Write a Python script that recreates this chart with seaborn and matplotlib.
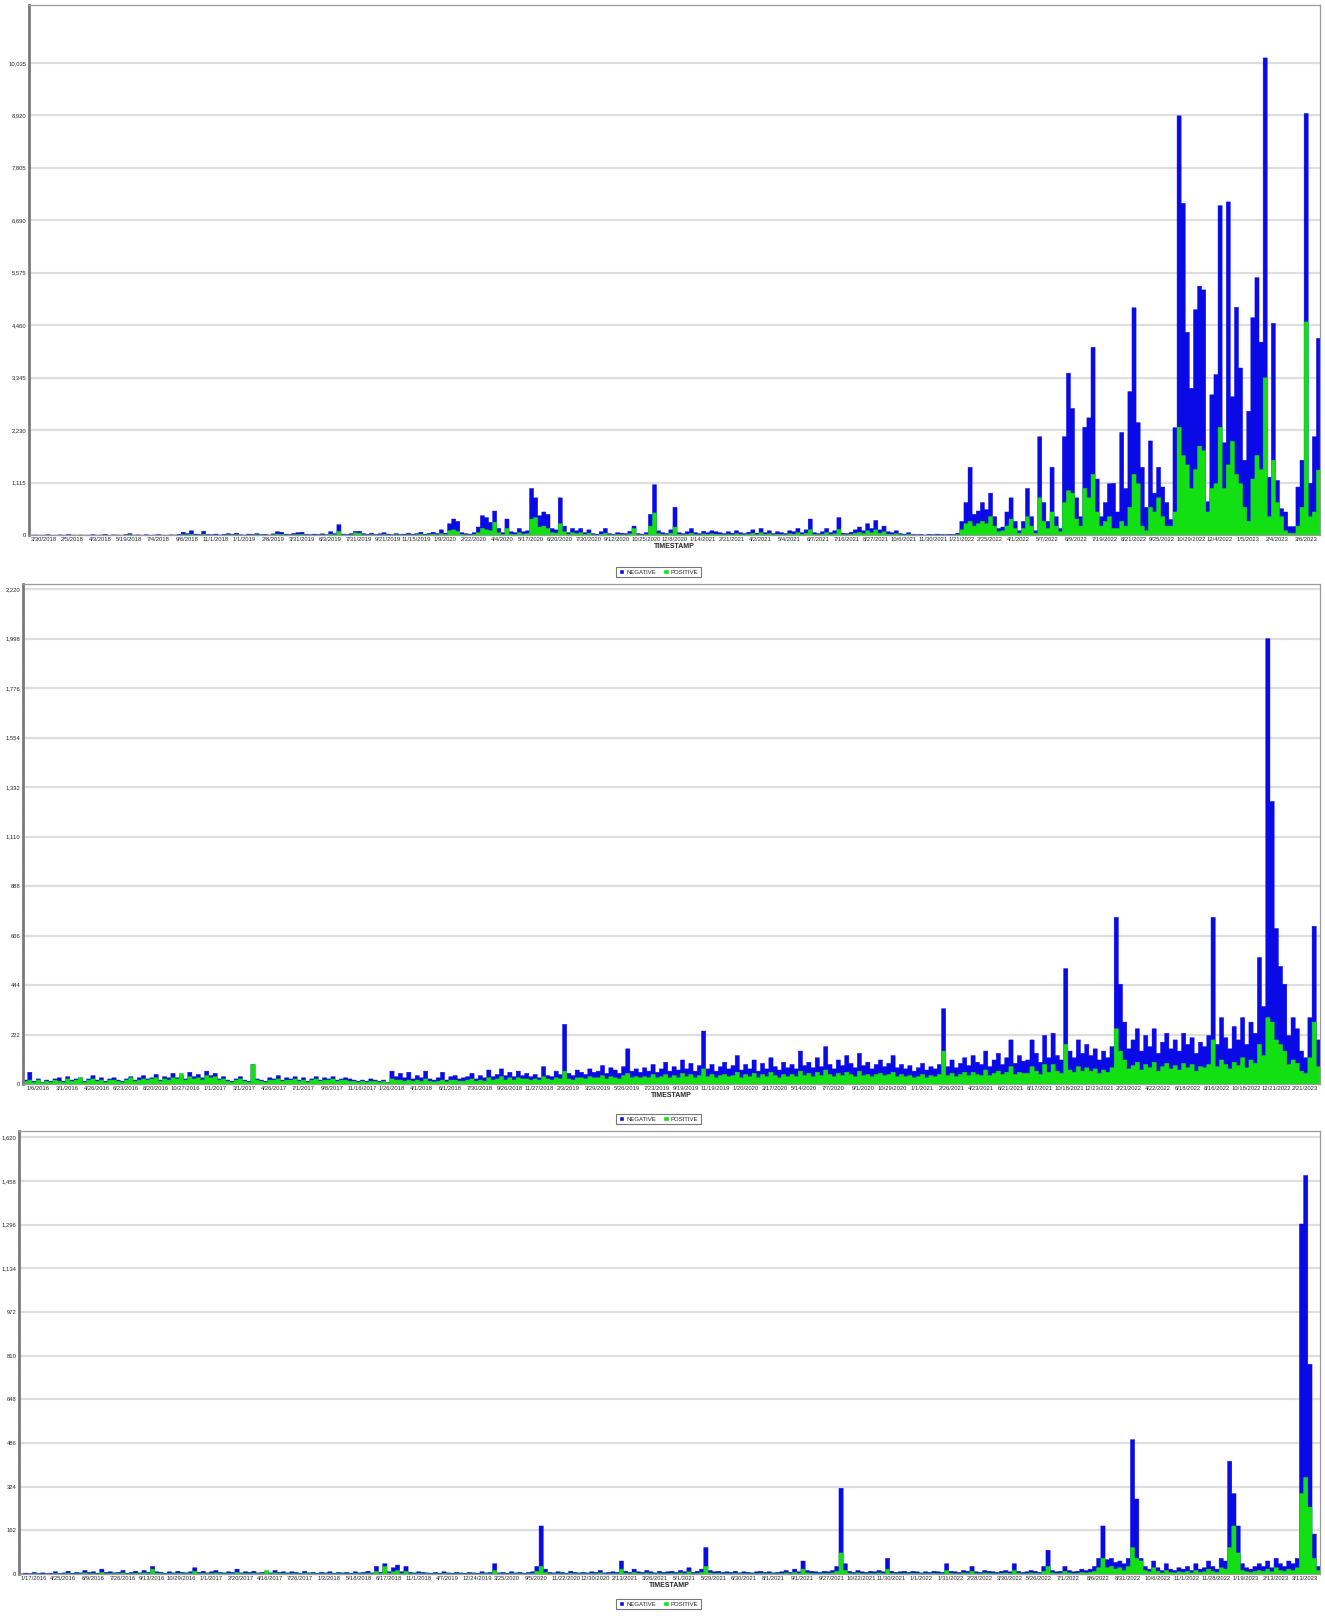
import numpy as np
import pandas as pd
import seaborn as sns
import matplotlib.pyplot as plt
from matplotlib.ticker import AutoMinorLocator
from matplotlib.patches import Patch

sns.set_style('white')
plt.rcParams['font.family'] = ['Liberation Sans', 'DejaVu Sans']

BLUE = '#0a0ae6'
GREEN = '#12e012'

# ---------------- panel 1 (one row = one x-label group) ----------------
p1_dates = ["3/30/2018", "2/5/2018", "4/3/2018", "5/19/2018", "7/4/2018", "9/6/2018", "11/1/2018",
            "1/1/2019", "2/8/2019", "3/31/2019", "6/3/2019", "7/31/2019", "9/21/2019", "11/15/2019",
            "1/9/2020", "2/22/2020", "4/4/2020", "5/17/2020", "6/20/2020", "7/30/2020", "9/12/2020",
            "10/25/2020", "12/8/2020", "1/14/2021", "2/21/2021", "4/2/2021", "5/4/2021", "6/7/2021",
            "7/16/2021", "8/27/2021", "10/6/2021", "11/30/2021", "1/21/2022", "2/25/2022", "4/1/2022",
            "5/7/2022", "6/9/2022", "7/19/2022", "8/21/2022", "9/25/2022", "10/29/2022", "12/4/2022",
            "1/5/2023", "2/4/2023", "3/6/2023"]
p1_yticks = [0, 1115, 2230, 3345, 4460, 5575, 6690, 7805, 8920, 10035]
p1_neg = [
    5, 10, 3, 8, 15, 4, 6,
    12, 5, 20, 8, 4, 10, 6,
    8, 15, 5, 10, 25, 6, 12,
    10, 5, 18, 40, 8, 12, 5,
    15, 6, 10, 20, 8, 5, 12,
    10, 25, 70, 40, 100, 30, 20,
    90, 20, 15, 30, 10, 25, 40,
    20, 50, 15, 10, 30, 20, 40,
    15, 25, 10, 35, 80, 70, 30,
    20, 45, 60, 70, 25, 15, 30,
    20, 35, 15, 80, 40, 230, 30,
    20, 40, 90, 90, 40, 25, 50,
    20, 35, 60, 30, 15, 40, 20,
    30, 50, 25, 40, 70, 30, 45,
    70, 40, 120, 50, 250, 350, 300,
    60, 40, 30, 60, 180, 420, 380,
    280, 520, 150, 60, 350, 80, 60,
    150, 80, 100, 1000, 800, 420, 500,
    450, 150, 120, 800, 200, 60, 150,
    100, 150, 60, 120, 40, 30, 80,
    150, 40, 30, 60, 50, 40, 90,
    200, 40, 30, 60, 450, 1080, 100,
    60, 40, 120, 600, 60, 40, 80,
    150, 60, 40, 90, 60, 100, 80,
    60, 40, 80, 50, 100, 60, 40,
    70, 120, 50, 150, 60, 100, 40,
    80, 60, 40, 100, 80, 150, 60,
    120, 350, 60, 40, 80, 150, 60,
    100, 380, 50, 40, 70, 120, 180,
    100, 250, 150, 320, 120, 200, 80,
    60, 100, 40, 30, 60, 20, 15,
    20, 10, 25, 15, 30, 20, 15,
    25, 20, 50, 300, 700, 1450, 450,
    520, 700, 550, 900, 400, 150, 180,
    500, 800, 300, 100, 300, 1000, 400,
    100, 2100, 700, 300, 1450, 400, 150,
    2100, 3450, 2700, 800, 400, 2300, 2500,
    4000, 1200, 400, 700, 1100, 1110, 500,
    2190, 1000, 3060, 4840, 2400, 1450, 600,
    2010, 900, 1450, 1030, 700, 340, 2290,
    8920, 7060, 4320, 3130, 4800, 5300, 5220,
    720, 2990, 3420, 7010, 1970, 7090, 2950,
    4850, 3560, 1600, 2640, 4630, 5480, 4110,
    10150, 1240, 4510, 1170, 570, 500, 190,
    190, 1030, 1600, 8970, 1110, 2100, 4190,
]
p1_pos = [
    2, 4, 1, 3, 6, 2, 3,
    5, 2, 8, 3, 2, 4, 2,
    3, 6, 2, 4, 10, 3, 5,
    4, 2, 7, 15, 3, 5, 2,
    6, 3, 4, 8, 3, 2, 5,
    4, 8, 20, 15, 30, 12, 8,
    30, 8, 6, 12, 4, 10, 15,
    8, 20, 6, 4, 12, 8, 15,
    6, 10, 4, 15, 30, 25, 12,
    8, 15, 20, 25, 10, 6, 12,
    8, 12, 6, 30, 15, 90, 12,
    8, 15, 60, 50, 15, 10, 20,
    8, 12, 25, 12, 6, 15, 8,
    12, 20, 10, 15, 30, 12, 20,
    30, 15, 40, 20, 100, 120, 90,
    25, 15, 12, 25, 60, 150, 120,
    100, 280, 60, 25, 150, 30, 25,
    60, 30, 40, 350, 380, 180, 200,
    150, 60, 50, 250, 80, 25, 60,
    40, 60, 25, 50, 15, 12, 30,
    50, 15, 12, 25, 20, 15, 35,
    150, 15, 12, 25, 200, 480, 40,
    25, 15, 50, 180, 25, 15, 30,
    50, 25, 15, 35, 25, 40, 30,
    25, 15, 30, 20, 40, 25, 15,
    30, 50, 20, 60, 25, 40, 15,
    30, 25, 15, 40, 30, 60, 25,
    50, 120, 25, 15, 30, 60, 25,
    40, 130, 20, 15, 30, 50, 70,
    40, 100, 60, 120, 50, 80, 30,
    25, 40, 15, 12, 25, 8, 6,
    8, 4, 10, 6, 12, 8, 6,
    10, 8, 20, 120, 250, 300, 200,
    250, 300, 250, 400, 200, 80, 100,
    200, 350, 150, 50, 150, 400, 200,
    50, 800, 300, 150, 500, 200, 80,
    700, 950, 900, 350, 200, 1000, 800,
    1300, 500, 200, 300, 400, 150, 150,
    300, 200, 600, 1300, 1100, 200, 100,
    600, 500, 800, 400, 200, 200, 500,
    2300, 1700, 1500, 1000, 1400, 1900, 1800,
    500, 1000, 1100, 2300, 1000, 1500, 2000,
    1300, 1100, 600, 300, 1200, 1700, 1400,
    3350, 400, 1600, 700, 400, 100, 50,
    50, 200, 600, 4540, 400, 500, 1390,
]

# ---------------- panel 2 ----------------
p2_dates = ["1/6/2016", "3/1/2016", "4/26/2016", "6/23/2016", "8/20/2016", "10/27/2016", "1/1/2017",
            "3/1/2017", "4/26/2017", "7/1/2017", "9/8/2017", "11/16/2017", "1/26/2018", "4/1/2018",
            "6/1/2018", "7/30/2018", "9/26/2018", "11/27/2018", "2/3/2019", "3/29/2019", "5/26/2019",
            "7/23/2019", "9/19/2019", "11/19/2019", "1/20/2020", "3/17/2020", "5/14/2020", "7/7/2020",
            "9/1/2020", "10/29/2020", "1/1/2021", "2/26/2021", "4/23/2021", "6/21/2021", "8/17/2021",
            "10/18/2021", "12/23/2021", "2/23/2022", "4/22/2022", "6/18/2022", "8/16/2022",
            "10/18/2022", "12/21/2022", "2/21/2023"]
p2_yticks = [0, 222, 444, 666, 888, 1110, 1332, 1554, 1776, 1998, 2220]
p2_neg = [
    20, 55, 15, 25, 10, 20, 15,
    25, 30, 15, 35, 20, 25, 30,
    15, 25, 40, 20, 30, 15, 25,
    30, 20, 15, 25, 35, 20, 30,
    40, 25, 30, 45, 20, 35, 30,
    50, 30, 40, 25, 55, 35, 45,
    30, 60, 40, 50, 25, 35, 20,
    15, 25, 35, 20, 15, 90, 25,
    20, 15, 30, 25, 40, 20, 30,
    25, 35, 20, 30, 15, 25, 35,
    20, 30, 25, 35, 20, 25, 30,
    25, 20, 15, 20, 15, 25, 20,
    15, 20, 10, 60, 35, 50, 30,
    55, 25, 40, 30, 60, 25, 20,
    30, 55, 20, 35, 40, 25, 30,
    35, 50, 25, 40, 30, 65, 35,
    45, 70, 40, 55, 35, 60, 40,
    50, 35, 45, 30, 80, 40, 35,
    60, 45, 270, 50, 40, 65, 55,
    45, 70, 55, 60, 85, 50, 75,
    65, 50, 80, 160, 60, 70, 55,
    75, 60, 90, 55, 70, 100, 60,
    80, 65, 110, 70, 95, 60, 85,
    240, 70, 90, 60, 80, 100, 70,
    85, 130, 65, 90, 70, 110, 60,
    95, 70, 120, 80, 65, 100, 75,
    90, 70, 150, 85, 100, 75, 120,
    80, 170, 90, 70, 110, 85, 130,
    95, 75, 140, 85, 100, 70, 90,
    110, 80, 95, 130, 75, 90, 70,
    85, 60, 75, 95, 65, 80, 70,
    90, 340, 80, 110, 75, 95, 120,
    85, 130, 100, 90, 150, 80, 110,
    140, 90, 120, 200, 95, 130, 105,
    110, 200, 140, 100, 220, 120, 230,
    130, 110, 520, 150, 120, 200, 140,
    180, 130, 160, 110, 150, 120, 170,
    750, 450, 280, 160, 200, 250, 150,
    220, 170, 250, 140, 190, 230, 160,
    200, 150, 230, 180, 210, 140, 190,
    170, 220, 750, 180, 300, 210, 160,
    260, 200, 300, 180, 280, 230, 570,
    350, 2000, 1270, 700, 530, 450, 220,
    300, 250, 150, 120, 300, 710, 200,
]
p2_pos = [
    15, 20, 10, 20, 8, 15, 10,
    20, 15, 10, 25, 15, 20, 30,
    10, 20, 25, 15, 20, 10, 20,
    20, 15, 10, 20, 30, 15, 20,
    25, 20, 25, 30, 15, 25, 20,
    30, 25, 50, 20, 35, 25, 30,
    20, 40, 30, 35, 20, 25, 15,
    10, 20, 25, 15, 10, 90, 20,
    15, 10, 20, 20, 25, 15, 20,
    20, 25, 15, 20, 10, 20, 25,
    15, 20, 20, 25, 15, 20, 20,
    15, 15, 10, 15, 10, 15, 15,
    10, 15, 8, 25, 20, 20, 15,
    20, 15, 20, 15, 25, 15, 12,
    15, 20, 12, 20, 20, 15, 15,
    20, 25, 15, 20, 15, 30, 20,
    25, 35, 20, 30, 20, 30, 25,
    25, 20, 25, 20, 35, 25, 20,
    30, 25, 60, 25, 20, 30, 30,
    25, 35, 30, 30, 40, 25, 35,
    30, 25, 40, 50, 30, 35, 30,
    35, 30, 45, 30, 35, 45, 30,
    40, 30, 50, 35, 45, 30, 40,
    70, 35, 45, 30, 40, 45, 35,
    40, 55, 30, 45, 35, 50, 30,
    45, 35, 55, 40, 30, 45, 35,
    45, 35, 60, 40, 50, 35, 55,
    40, 65, 45, 35, 50, 40, 55,
    45, 35, 60, 40, 45, 35, 45,
    50, 40, 45, 55, 35, 45, 35,
    40, 30, 35, 45, 30, 40, 35,
    45, 150, 40, 50, 35, 45, 55,
    40, 55, 45, 40, 65, 40, 50,
    60, 45, 55, 80, 45, 55, 50,
    50, 80, 60, 45, 90, 55, 90,
    60, 50, 180, 65, 55, 80, 60,
    75, 60, 70, 50, 65, 55, 75,
    250, 150, 110, 70, 85, 100, 65,
    90, 75, 100, 60, 80, 95, 70,
    85, 65, 95, 75, 90, 60, 80,
    75, 90, 200, 80, 110, 90, 70,
    100, 85, 120, 75, 110, 95, 180,
    130, 300, 280, 200, 180, 150, 90,
    110, 95, 60, 50, 120, 280, 80,
]

# ---------------- panel 3 ----------------
p3_dates = ["1/17/2016", "4/25/2016", "6/9/2016", "7/26/2016", "9/13/2016", "10/29/2016", "1/1/2017",
            "2/20/2017", "4/16/2017", "7/26/2017", "1/2/2018", "5/18/2018", "6/17/2018", "11/1/2018",
            "4/7/2019", "12/24/2019", "3/25/2020", "9/5/2020", "11/22/2020", "12/30/2020", "2/13/2021",
            "3/26/2021", "5/1/2021", "5/29/2021", "6/30/2021", "8/1/2021", "9/1/2021", "9/27/2021",
            "10/22/2021", "11/30/2021", "1/1/2022", "1/31/2022", "2/28/2022", "3/30/2022", "5/26/2022",
            "7/1/2022", "8/6/2022", "8/31/2022", "10/6/2022", "11/1/2022", "11/28/2022", "1/19/2023",
            "2/13/2023", "3/13/2023"]
p3_yticks = [0, 162, 324, 486, 648, 810, 972, 1134, 1296, 1458, 1620]
p3_neg = [
    2, 5, 3, 8, 4, 6, 3,
    5, 10, 4, 6, 12, 5, 8,
    6, 15, 8, 10, 5, 20, 8,
    10, 6, 8, 15, 5, 8, 12,
    6, 15, 8, 30, 10, 8, 5,
    10, 6, 12, 8, 6, 10, 25,
    8, 12, 6, 10, 15, 8, 6,
    10, 8, 20, 6, 10, 8, 12,
    6, 8, 10, 6, 15, 8, 10,
    6, 10, 8, 5, 12, 6, 8,
    5, 8, 6, 10, 5, 8, 6,
    8, 5, 10, 6, 8, 12, 6,
    30, 8, 40, 10, 25, 35, 10,
    30, 8, 6, 10, 8, 6, 5,
    8, 5, 10, 6, 5, 8, 6,
    5, 8, 6, 5, 10, 6, 8,
    40, 6, 8, 5, 10, 6, 8,
    5, 8, 10, 30, 180, 20, 8,
    6, 10, 8, 5, 12, 8, 6,
    8, 6, 10, 8, 15, 6, 8,
    10, 8, 50, 12, 8, 20, 10,
    8, 15, 10, 6, 12, 8, 10,
    12, 8, 15, 10, 25, 8, 12,
    20, 100, 15, 10, 12, 8, 10,
    8, 12, 6, 10, 8, 6, 10,
    12, 8, 10, 6, 8, 10, 15,
    8, 20, 10, 50, 15, 12, 10,
    8, 12, 10, 15, 30, 320, 40,
    12, 8, 15, 10, 8, 12, 10,
    15, 10, 60, 12, 8, 10, 12,
    8, 12, 10, 6, 10, 8, 12,
    10, 8, 40, 12, 10, 8, 15,
    12, 30, 10, 8, 15, 12, 10,
    8, 12, 15, 10, 40, 12, 8,
    10, 15, 12, 8, 30, 90, 15,
    10, 12, 30, 15, 10, 12, 20,
    15, 20, 30, 60, 180, 55, 60,
    45, 50, 40, 60, 500, 280, 60,
    30, 20, 50, 25, 15, 40, 20,
    15, 25, 20, 30, 15, 40, 20,
    25, 50, 30, 20, 60, 50, 420,
    300, 180, 40, 25, 20, 30, 40,
    30, 50, 25, 60, 40, 30, 50,
    40, 60, 1300, 1480, 780, 150, 30,
]
p3_pos = [
    1, 2, 1, 3, 2, 2, 1,
    2, 4, 2, 3, 5, 2, 3,
    3, 6, 3, 4, 2, 8, 3,
    4, 3, 4, 6, 2, 3, 5,
    3, 6, 4, 20, 5, 4, 2,
    4, 3, 5, 4, 3, 5, 12,
    4, 5, 3, 4, 6, 4, 3,
    4, 3, 8, 3, 4, 3, 5,
    3, 4, 15, 3, 6, 4, 4,
    3, 4, 3, 2, 5, 3, 4,
    2, 3, 3, 4, 2, 3, 3,
    3, 2, 4, 3, 3, 5, 3,
    12, 4, 30, 5, 10, 15, 4,
    12, 3, 3, 4, 3, 3, 2,
    3, 2, 4, 3, 2, 3, 3,
    2, 3, 3, 2, 4, 3, 3,
    15, 3, 3, 2, 4, 3, 3,
    2, 3, 4, 12, 30, 8, 3,
    3, 4, 3, 2, 5, 3, 3,
    3, 3, 4, 3, 6, 3, 3,
    4, 3, 20, 5, 3, 8, 4,
    3, 6, 4, 3, 5, 3, 4,
    5, 3, 6, 4, 10, 3, 5,
    8, 30, 6, 4, 5, 3, 4,
    3, 5, 3, 4, 3, 3, 4,
    5, 3, 4, 3, 3, 4, 6,
    3, 8, 4, 20, 6, 5, 4,
    3, 5, 4, 6, 12, 80, 15,
    5, 3, 6, 4, 3, 5, 4,
    6, 4, 20, 5, 3, 4, 5,
    3, 5, 4, 3, 4, 3, 5,
    4, 3, 15, 5, 4, 3, 6,
    5, 12, 4, 3, 6, 5, 4,
    3, 5, 6, 4, 15, 5, 3,
    4, 6, 5, 3, 12, 30, 6,
    4, 5, 12, 6, 4, 5, 8,
    6, 8, 12, 25, 60, 25, 30,
    20, 25, 15, 30, 100, 60, 50,
    15, 10, 25, 12, 6, 15, 8,
    6, 10, 8, 12, 6, 15, 8,
    10, 20, 12, 8, 25, 20, 100,
    180, 80, 15, 10, 8, 12, 15,
    12, 20, 10, 25, 15, 12, 20,
    15, 25, 300, 360, 250, 60, 15,
]

GROUP = 7  # days per x-label


def draw_panel(ax, neg, pos, dates, yticks, ymax):
    df = pd.DataFrame({'day': np.arange(len(neg)), 'neg': neg, 'pos': pos})
    ax.set_axisbelow(True)
    ax.yaxis.grid(True, color='#dedede', lw=1.6)
    sns.histplot(data=df, x='day', weights='neg', discrete=True, element='step',
                 fill=True, color=BLUE, edgecolor=BLUE, alpha=1, linewidth=0.3, ax=ax)
    sns.histplot(data=df, x='day', weights='pos', discrete=True, element='step',
                 fill=True, color=GREEN, edgecolor=GREEN, alpha=1, linewidth=0.3, ax=ax)
    ax.set_xlim(-0.5, len(neg) - 0.5)
    ax.set_ylim(0, ymax)
    ax.set_xticks([GROUP * k + 3 for k in range(len(dates))])
    ax.set_xticklabels(dates)
    ax.set_yticks(yticks)
    ax.set_yticklabels([f'{v:,}' for v in yticks])
    ax.yaxis.set_minor_locator(AutoMinorLocator(4))
    ax.tick_params(axis='x', length=0, labelsize=4.2, pad=1.5)
    ax.tick_params(axis='y', which='major', length=1.5, width=0.6, color='#666666',
                   labelsize=4.2, pad=0.4)
    ax.tick_params(axis='y', which='minor', length=1.0, width=0.5, color='#888888', left=True)
    ax.set_ylabel('')
    ax.set_xlabel('TIMESTAMP', fontsize=5, fontweight='bold', labelpad=1)
    for side in ['top', 'right', 'bottom']:
        ax.spines[side].set_color('#9a9a9a')
        ax.spines[side].set_linewidth(0.9)
    ax.spines['left'].set_color('#7a7a7a')
    ax.spines['left'].set_linewidth(2)


fig = plt.figure(figsize=(13.25, 16.16), dpi=100)
W, H = 1325, 1616
panels = [
    (p1_neg, p1_pos, p1_dates, p1_yticks, 11264, (29, 5, 1320, 535), 572),
    (p2_neg, p2_pos, p2_dates, p2_yticks, 2243, (23, 584, 1320, 1084), 1119),
    (p3_neg, p3_pos, p3_dates, p3_yticks, 1643, (19, 1131, 1320, 1574), 1604),
]
for neg, pos, dates, yt, ymax, (l, t, r, b), leg_y in panels:
    ax = fig.add_axes([l / W, 1 - b / H, (r - l) / W, (b - t) / H])
    draw_panel(ax, neg, pos, dates, yt, ymax)
    handles = [Patch(facecolor=BLUE, label='NEGATIVE'), Patch(facecolor=GREEN, label='POSITIVE')]
    leg = fig.legend(handles=handles, loc='center', bbox_to_anchor=(0.497, 1 - leg_y / H),
                     ncol=2, fontsize=4.3, frameon=True, fancybox=False, edgecolor='#555555',
                     handlelength=0.9, handleheight=0.9, handletextpad=0.4,
                     columnspacing=1.2, borderpad=0.35)
    leg.get_frame().set_linewidth(0.8)

fig.savefig('out.png', dpi=100, facecolor='white')
